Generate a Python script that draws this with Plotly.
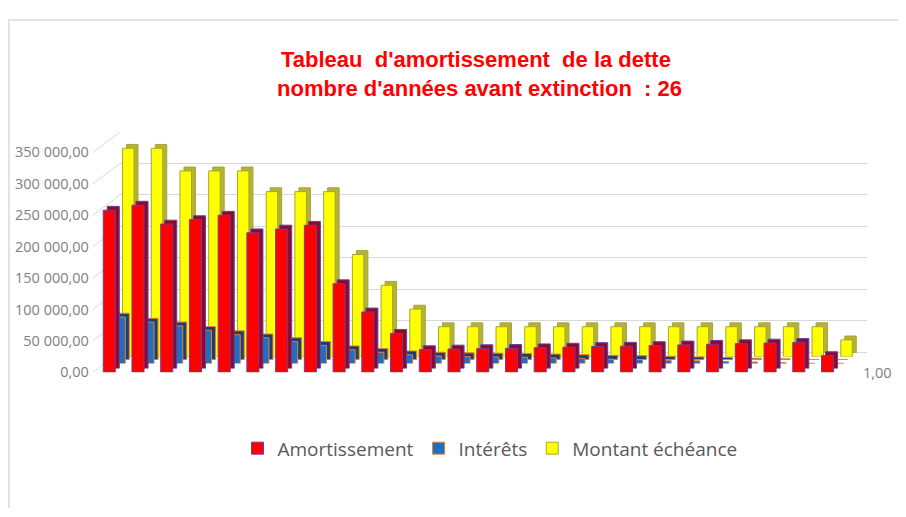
import plotly.graph_objects as go

# ---------------- data ----------------
annees = list(range(1, 27))
amortissement = [258000, 266000, 236000, 243000, 250000, 222000, 228000, 234000,
                 141000, 96000, 62000, 36000, 37000, 37500, 38000, 39000, 40000,
                 41000, 41500, 42500, 43500, 44500, 45500, 46500, 47500, 26500]
interets = [74000, 66000, 60000, 53000, 46000, 41000, 35000, 29000, 22000,
            18000, 14000, 12000, 11000, 10500, 10000, 9000, 8000, 7000, 6500,
            5500, 4500, 3500, 2500, 1500, 500, 500]
montant_echeance = [332000, 332000, 296000, 296000, 296000, 263000, 263000,
                    263000, 163000, 114000, 76000, 48000, 48000, 48000, 48000,
                    48000, 48000, 48000, 48000, 48000, 48000, 48000, 48000,
                    48000, 48000, 27000]
y_ticks = [0, 50000, 100000, 150000, 200000, 250000, 300000, 350000]
titre_l1 = "Tableau&nbsp; d'amortissement&nbsp; de la dette"
titre_l2 = "nombre d'années avant extinction&nbsp; : 26"

# ---------------- geometry ----------------
# the page body has an 8 px margin: the figure is sized to fit the 906x517 window
OFF = 8
W, H = 906 - OFF, 517 - OFF
LEFT, RIGHT = 94.9, 841.9      # front plane x extent (window pixels)
BOTTOM, TOP = 376.0, 147.6     # front plane y extent (0 .. 350 000)
YMAX = 350000


def px(x):
    return (x - OFF) / W


def py(y):
    return 1 - (y - OFF) / H


def xdom(dx):
    return [px(LEFT + dx), px(RIGHT + dx)]


def ydom(dy):
    return [py(BOTTOM + dy), py(TOP + dy)]


fig = go.Figure()
layout_axes = {}

# planes: (name, dx, dy)
planes = [
    ("wall", 25, -21),
    ("yel_sh", 23, -20),
    ("yel", 19, -16),
    ("blu_sh", 14, -13),
    ("blu", 10, -9),
    ("red_sh", 4, -4),
    ("red", 0, 0),
]

for i, (name, dx, dy) in enumerate(planes):
    n = "" if i == 0 else str(i + 1)
    layout_axes["xaxis" + n] = dict(domain=xdom(dx), range=[0.5, 26.5], visible=False,
                                   anchor="y" + n, fixedrange=True)
    yd = dict(domain=ydom(dy), range=[0, YMAX], anchor="x" + n, showgrid=False,
              zeroline=False, showticklabels=False, ticks="", fixedrange=True)
    if name == "wall":
        yd.update(showgrid=True, gridcolor="#D9D9D9", gridwidth=1, tickvals=y_ticks,
                  zeroline=True, zerolinecolor="#D9D9D9", zerolinewidth=1)
    if name == "red":
        yd.update(showticklabels=True, tickvals=y_ticks, tickformat=",.2f",
                  tickfont=dict(family="Open Sans", size=14.5, color="#808080"),
                  ticklabelstandoff=5)
    layout_axes["yaxis" + n] = yd

# wall dummy trace so the subplot exists
fig.add_trace(go.Scatter(x=[None], y=[None], xaxis="x", yaxis="y", showlegend=False,
                         hoverinfo="skip"))

series = [
    ("Montant échéance", montant_echeance, "#FFFF00", "#B3B33C", "#A6A62E", 2, 0.40),
    ("Intérêts", interets, "#1F6FC0", "#1B3F73", "#ED7D31", 4, 0.42),
    ("Amortissement", amortissement, "#FF0000", "#8C0A2A", "#6B3FA0", 6, 0.42),
]
for nom, vals, face, side, edge, k, w in series:
    # side / top faces (shadow block behind the face)
    fig.add_trace(go.Bar(x=annees, y=vals, width=w, xaxis="x" + str(k), yaxis="y" + str(k),
                         marker=dict(color=side, line=dict(color=edge, width=1)),
                         showlegend=False, hoverinfo="skip"))
    fig.add_trace(go.Bar(x=annees, y=vals, width=w, name=nom,
                         xaxis="x" + str(k + 1), yaxis="y" + str(k + 1),
                         marker=dict(color=face, line=dict(color=edge, width=1))))

# side wall diagonal gridlines + frame
shapes = []
for v in y_ticks:
    yf = BOTTOM - v / YMAX * (BOTTOM - TOP)
    shapes.append(dict(type="line", xref="paper", yref="paper",
                       x0=px(LEFT - 2), y0=py(yf), x1=px(LEFT + 25), y1=py(yf - 21),
                       line=dict(color="#D9D9D9", width=1), layer="below"))
shapes.append(dict(type="path", xref="paper", yref="paper",
                   path=f"M {px(9)} 0 L {px(9)} {py(10)} L 1 {py(10)}",
                   line=dict(color="#E3E3E3", width=2)))

fig.update_layout(
    width=W, height=H,
    margin=dict(l=0, r=0, t=0, b=0),
    paper_bgcolor="white", plot_bgcolor="rgba(0,0,0,0)",
    separators=", ",
    barmode="overlay",
    showlegend=True,
    legend=dict(orientation="h", x=px(490), xanchor="center", y=py(455), yanchor="middle",
                font=dict(family="Open Sans", size=19, color="#595959"),
                traceorder="reversed", itemwidth=30),
    shapes=shapes,
    annotations=[
        dict(text="<b>" + titre_l1 + "</b>", x=px(476), y=py(51), xref="paper", yref="paper",
             showarrow=False, xanchor="center", yanchor="middle",
             font=dict(family="Liberation Sans", size=22, color="#FF0000")),
        dict(text="<b>" + titre_l2 + "</b>", x=px(479), y=py(81), xref="paper", yref="paper",
             showarrow=False, xanchor="center", yanchor="middle",
             font=dict(family="Liberation Sans", size=22, color="#FF0000")),
        dict(text="1,00", x=px(861), y=py(376), xref="paper", yref="paper",
             showarrow=False, xanchor="left", yanchor="middle",
             font=dict(family="Open Sans", size=14.5, color="#808080")),
    ],
    **layout_axes,
)

fig.write_html("out.html", config={"displayModeBar": False})
